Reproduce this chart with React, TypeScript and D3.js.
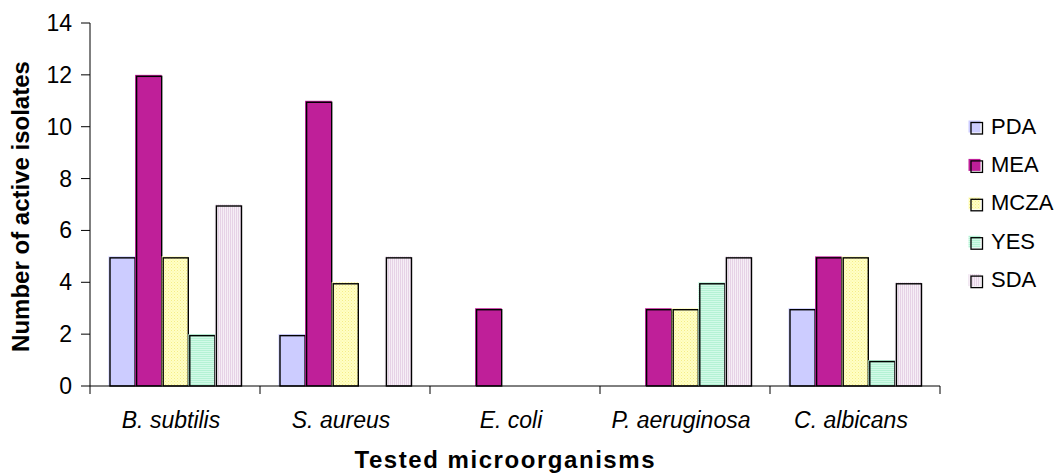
import React from "react";
import * as d3 from "d3";

const categories = ["B. subtilis", "S. aureus", "E. coli", "P. aeruginosa", "C. albicans"];
const seriesNames = ["PDA", "MEA", "MCZA", "YES", "SDA"];
const PDA = [5, 2, 0, 0, 3];
const MEA = [12, 11, 3, 3, 5];
const MCZA = [5, 4, 0, 3, 5];
const YES = [2, 0, 0, 4, 1];
const SDA = [7, 5, 0, 5, 4];
const yTicks = [0, 2, 4, 6, 8, 10, 12, 14];

const seriesValues = [PDA, MEA, MCZA, YES, SDA];
const fills = ["#CCCCFF", "#BF1F99", "url(#pMCZA)", "url(#pYES)", "url(#pSDA)"];

const W = 1058;
const H = 474;
const left = 90;
const right = 940;
const top = 23;
const bottom = 386;
const FONT = "'Liberation Sans', Arial, sans-serif";

export default function App() {
  const x = d3.scaleBand<string>().domain(categories).range([left, right]).padding(0);
  const bw = x.bandwidth();
  const inner = d3.scaleBand<string>().domain(seriesNames).range([18.5, bw - 18.5]).padding(0);
  const y = d3.scaleLinear().domain([0, 14]).range([bottom, top]);
  const w = inner.bandwidth();

  const bars: React.ReactNode[] = [];
  seriesNames.forEach((s, si) => {
    categories.forEach((c, ci) => {
      const v = seriesValues[si][ci];
      if (v <= 0) return;
      const bx = (x(c) as number) + (inner(s) as number);
      const by = y(v);
      const bh = y(0) - by;
      bars.push(
        <g key={s + c}>
          <rect x={bx} y={by} width={w} height={bh} fill={fills[si]} />
          <rect x={bx + 1.5} y={by + 1.5} width={w - 1.5} height={bh - 1.5} fill="none" stroke="#000" strokeWidth={1.4} />
        </g>
      );
    });
  });

  const boundaries = [...categories.map((c) => x(c) as number), right];

  return (
    <svg width={W} height={H} style={{ position: "absolute", left: 0, top: 0, background: "#fff" }}>
      <defs>
        <pattern id="pMCZA" width="3" height="3" patternUnits="userSpaceOnUse">
          <rect width="3" height="3" fill="#FFFFC4" />
          <rect width="1" height="1" fill="#F4EC88" />
          <rect x="1.5" y="1.5" width="1" height="1" fill="#F8F0A0" />
        </pattern>
        <pattern id="pYES" width="3" height="2" patternUnits="userSpaceOnUse">
          <rect width="3" height="2" fill="#D2FAE8" />
          <rect width="3" height="1" fill="#B4F2D4" />
        </pattern>
        <pattern id="pSDA" width="2" height="3" patternUnits="userSpaceOnUse">
          <rect width="2" height="3" fill="#F6EEF6" />
          <rect width="1" height="3" fill="#E6D2E6" />
        </pattern>
      </defs>

      {bars}

      {/* y axis */}
      <line x1={left} x2={left} y1={top} y2={bottom} stroke="#000" strokeWidth={1} />
      {yTicks.map((t) => (
        <g key={t}>
          <line x1={81} x2={left} y1={y(t)} y2={y(t)} stroke="#000" strokeWidth={1} />
          <text x={72} y={y(t) + 8} textAnchor="end" fontFamily={FONT} fontSize={23} fill="#000">
            {t}
          </text>
        </g>
      ))}

      {/* x axis */}
      <line x1={left} x2={right} y1={bottom} y2={bottom} stroke="#000" strokeWidth={1} />
      {boundaries.map((b, i) => (
        <line key={i} x1={b} x2={b} y1={bottom} y2={bottom + 8} stroke="#000" strokeWidth={1} />
      ))}
      {categories.map((c) => (
        <text
          key={c}
          x={(x(c) as number) + bw / 2 - 4}
          y={428}
          textAnchor="middle"
          fontFamily={FONT}
          fontStyle="italic"
          fontSize={23}
          fill="#000"
        >
          {c}
        </text>
      ))}

      {/* axis titles */}
      <text
        x={504.5}
        y={468}
        textAnchor="middle"
        fontFamily={FONT}
        fontWeight="bold"
        fontSize={24}
        textLength={300}
        lengthAdjust="spacing"
        fill="#000"
      >
        Tested microorganisms
      </text>
      <text
        transform={`translate(28.5, ${(top + bottom) / 2 + 2}) rotate(-90)`}
        textAnchor="middle"
        fontFamily={FONT}
        fontWeight="bold"
        fontSize={24}
        fill="#000"
      >
        Number of active isolates
      </text>

      {/* legend */}
      {seriesNames.map((s, i) => {
        const base = 133.5 + i * 38.4;
        return (
          <g key={s}>
            <rect x={968.5} y={base - 13} width={12} height={12} fill={fills[i]} />
            <rect x={971} y={base - 11} width={11.5} height={11.5} fill="none" stroke="#000" strokeWidth={1.3} />
            <text x={991} y={base} fontFamily={FONT} fontSize={22} fill="#000">
              {s}
            </text>
          </g>
        );
      })}
    </svg>
  );
}
